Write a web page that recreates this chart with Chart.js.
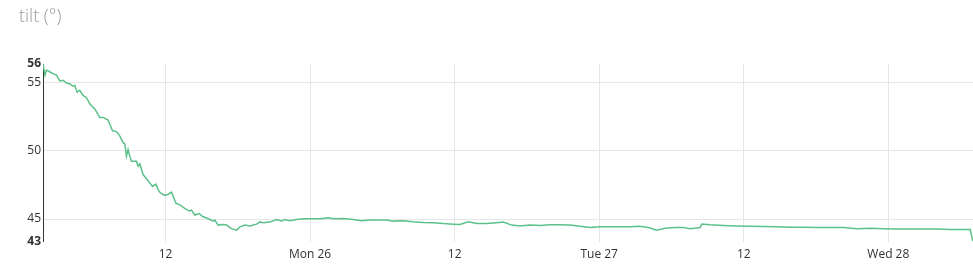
<!DOCTYPE html>
<html>
<head>
<meta charset="utf-8">
<script src="https://cdn.jsdelivr.net/npm/chart.js@4/dist/chart.umd.min.js"></script>
<style>
    html, body { margin: 0; padding: 0; background: #fff; }
    #wrap { width: 973px; height: 272px; position: relative; }
</style>
</head>
<body>
<div id="wrap"><canvas id="tilt-canvas"></canvas></div>
<script>
// hours since Sun 25 00:00
const hours = [1.83, 2.0, 2.12, 2.39, 2.66, 2.95, 3.22, 3.5, 3.78, 4.05, 4.33, 4.47, 4.66, 4.88, 5.16, 5.44, 5.71, 6.13, 6.54, 6.82,
    7.23, 7.6, 7.93, 8.2, 8.48, 8.62, 8.76, 8.89, 9.03, 9.18, 9.59, 9.72, 9.87, 10.14, 10.55, 10.92, 11.19, 11.47, 11.75, 12.0,
    12.22, 12.5, 12.86, 13.19, 13.6, 13.96, 14.16, 14.43, 14.79, 15.12, 15.54, 15.95, 16.09, 16.37, 16.78, 17.07, 17.48, 17.9, 18.17, 18.59,
    19.0, 19.56, 19.83, 20.11, 20.66, 21.22, 21.63, 21.91, 22.32, 22.88, 23.43, 24.13, 24.82, 25.5, 25.92, 26.75, 27.58, 28.28, 28.97, 29.66,
    30.36, 30.9, 31.73, 32.56, 33.4, 34.23, 35.06, 35.89, 36.44, 37.13, 37.83, 38.66, 39.49, 40.04, 40.74, 41.43, 42.26, 43.09, 43.92, 44.75,
    45.58, 46.41, 47.24, 48.07, 48.9, 49.73, 50.56, 51.39, 52.08, 52.78, 53.47, 54.3, 54.99, 55.55, 56.38, 56.52, 57.21, 58.31, 59.43, 60.53,
    61.63, 62.75, 63.85, 64.96, 66.07, 67.17, 68.28, 69.39, 70.5, 71.6, 72.71, 73.82, 74.92, 76.04, 77.14, 77.97, 78.8, 79.03];
const tilt = [56.36, 55.54, 55.91, 55.79, 55.66, 55.54, 55.12, 55.17, 54.97, 54.92, 54.72, 54.8, 54.3, 54.43, 54.06, 53.89, 53.44, 53.07, 52.45, 52.45,
    52.26, 51.47, 51.41, 51.1, 50.6, 50.52, 49.61, 50.1, 49.61, 49.24, 49.24, 48.87, 49.04, 48.26, 47.81, 47.39, 47.56, 47.02, 46.82, 46.73,
    46.82, 46.97, 46.16, 46.04, 45.79, 45.59, 45.66, 45.3, 45.41, 45.17, 45.04, 44.85, 44.93, 44.56, 44.6, 44.56, 44.3, 44.19, 44.43, 44.56,
    44.5, 44.63, 44.8, 44.73, 44.78, 44.97, 44.87, 44.97, 44.87, 44.97, 45.02, 45.02, 45.02, 45.1, 45.02, 45.05, 44.97, 44.87, 44.93, 44.93,
    44.93, 44.85, 44.87, 44.8, 44.75, 44.73, 44.67, 44.63, 44.6, 44.8, 44.67, 44.67, 44.73, 44.78, 44.56, 44.5, 44.56, 44.53, 44.58, 44.58,
    44.56, 44.48, 44.38, 44.43, 44.43, 44.43, 44.43, 44.48, 44.38, 44.19, 44.33, 44.38, 44.38, 44.3, 44.38, 44.63, 44.58, 44.53, 44.5, 44.48,
    44.45, 44.43, 44.41, 44.41, 44.38, 44.38, 44.38, 44.3, 44.33, 44.3, 44.28, 44.28, 44.28, 44.28, 44.23, 44.23, 44.23, 43.35];

const xTicks = [12, 24, 36, 48, 60, 72];
const xTickLabels = ["12", "Mon 26", "12", "Tue 27", "12", "Wed 28"];
const yTicks = [45, 50, 55];

window.onload = () => {
    const ctx = document.getElementById("tilt-canvas").getContext('2d');
    const yMin = Math.min(...tilt);
    const yMax = Math.max(...tilt);

    const points = hours.map((h, i) => ({ x: h, y: tilt[i] }));

    const config = {
        type: 'line',
        data: {
            datasets: [{
                label: 'tilt',
                data: points,
                borderColor: '#5cc189',
                borderWidth: 1.5,
                pointRadius: 0,
                fill: false,
                tension: 0,
            }]
        },
        options: {
            responsive: true,
            maintainAspectRatio: false,
            animation: false,
            layout: {
                padding: { left: 19, right: 0, top: 0, bottom: 4 }
            },
            plugins: {
                legend: { display: false },
                tooltip: { enabled: false },
                title: {
                    display: true,
                    text: 'tilt (°)',
                    align: 'start',
                    color: '#999',
                    font: { family: 'Open Sans', size: 18, weight: '300', lineHeight: 1.2 },
                    padding: { top: 6, bottom: 36.4 }
                }
            },
            scales: {
                x: {
                    type: 'linear',
                    min: hours[0],
                    max: hours[hours.length - 1],
                    border: { display: false },
                    grid: { color: '#e6e6e6', drawTicks: false },
                    afterBuildTicks: scale => {
                        scale.ticks = xTicks.map(v => ({ value: v }));
                    },
                    ticks: {
                        padding: 6,
                        color: '#333',
                        maxRotation: 0,
                        autoSkip: false,
                        font: { family: 'Open Sans', size: 12 },
                        callback: (value, index) => xTickLabels[index]
                    }
                },
                y: {
                    min: yMin,
                    max: yMax,
                    border: { display: true, color: '#333', width: 1 },
                    grid: {
                        drawTicks: false,
                        color: c => (c.tick && (c.tick.value == yMin || c.tick.value == yMax)) ? 'rgba(0,0,0,0)' : '#e6e6e6'
                    },
                    afterBuildTicks: scale => {
                        scale.ticks = [yMin].concat(yTicks, [yMax]).map(v => ({ value: v }));
                    },
                    afterFit: scale => { scale.width = 24; },
                    ticks: {
                        padding: 2,
                        color: '#333',
                        autoSkip: false,
                        font: c => ({
                            family: 'Open Sans',
                            size: 12,
                            weight: (c.tick && (c.tick.value == yMin || c.tick.value == yMax)) ? 'bold' : 'normal'
                        }),
                        callback: value => Math.round(value).toString()
                    }
                }
            }
        }
    };

    new Chart(ctx, config);
};
</script>
</body>
</html>
